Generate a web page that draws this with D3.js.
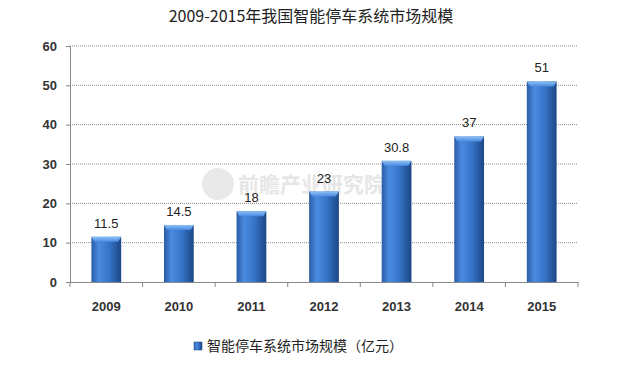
<!DOCTYPE html>
<html>
<head>
<meta charset="utf-8">
<script src="https://cdn.jsdelivr.net/npm/d3@7"></script>
<style>
  body { margin: 0; background: #fff; }
  svg { display: block; }
</style>
</head>
<body>
<svg id="chart" width="622" height="368"></svg>
<script>
const years = ['2009', '2010', '2011', '2012', '2013', '2014', '2015'];
const marketSize = [11.5, 14.5, 18, 23, 30.8, 37, 51];
const valueLabels = ['11.5', '14.5', '18', '23', '30.8', '37', '51'];
const yTicks = [0, 10, 20, 30, 40, 50, 60];
const chartTitle = '2009-2015年我国智能停车系统市场规模';
const seriesName = '智能停车系统市场规模（亿元）';
const watermark = '前瞻产业研究院';

const svg = d3.select('#chart');
const margin = { top: 46, right: 44, bottom: 86, left: 70 };
const width = 622 - margin.left - margin.right;
const height = 368 - margin.top - margin.bottom;
const cjk = '"Noto Sans CJK SC", "Noto Sans", sans-serif';
const latin = '"Liberation Sans", Arial, sans-serif';

const defs = svg.append('defs');
const grad = defs.append('linearGradient').attr('id', 'barGrad')
    .attr('x1', '0%').attr('x2', '100%').attr('y1', '0%').attr('y2', '0%');
grad.append('stop').attr('offset', '0%').attr('stop-color', '#2a5ca4');
grad.append('stop').attr('offset', '25%').attr('stop-color', '#4a8ae0');
grad.append('stop').attr('offset', '60%').attr('stop-color', '#3574c8');
grad.append('stop').attr('offset', '100%').attr('stop-color', '#1d4784');

const topGrad = defs.append('linearGradient').attr('id', 'topGrad')
    .attr('x1', '0%').attr('x2', '0%').attr('y1', '0%').attr('y2', '100%');
topGrad.append('stop').attr('offset', '0%').attr('stop-color', '#8cc0f5');
topGrad.append('stop').attr('offset', '100%').attr('stop-color', '#4a8ae0');

// Title
svg.append('text')
    .attr('x', 311).attr('y', 22)
    .attr('text-anchor', 'middle')
    .attr('font-family', cjk)
    .attr('font-size', 16)
    .attr('fill', '#222')
    .text(chartTitle);

const g = svg.append('g').attr('transform', `translate(${margin.left},${margin.top})`);

const x = d3.scaleBand().domain(years).range([0, width]).paddingInner(0.59).paddingOuter(0.295);
const y = d3.scaleLinear().domain([0, 60]).range([height, 0]);

// Watermark (faint, behind the bars)
const wm = g.append('g').attr('opacity', 0.6);
wm.append('circle').attr('cx', 148).attr('cy', 138).attr('r', 16).attr('fill', '#dcdcdc');
wm.append('text').attr('x', 168).attr('y', 146)
    .attr('font-family', cjk).attr('font-size', 21).attr('font-weight', 'bold')
    .attr('fill', '#d6d6d6').text(watermark);

// Grid lines
g.append('g')
    .selectAll('line')
    .data(yTicks.filter(d => d > 0))
    .join('line')
    .attr('x1', 0).attr('x2', width)
    .attr('y1', d => y(d)).attr('y2', d => y(d))
    .attr('stroke', '#8a8a8a')
    .attr('stroke-width', 1)
    .attr('stroke-dasharray', '1,1');

// Y axis
const yAxis = g.append('g')
    .call(d3.axisLeft(y).tickValues(yTicks).tickSize(4).tickPadding(9));
yAxis.select('.domain').attr('stroke', '#888');
yAxis.selectAll('.tick line').attr('stroke', '#888');
yAxis.selectAll('text')
    .attr('font-family', latin)
    .attr('font-size', 13).attr('font-weight', 'bold').attr('fill', '#333');

// X axis
const xAxis = g.append('g')
    .attr('transform', `translate(0,${height})`)
    .call(d3.axisBottom(x).tickSize(0).tickPadding(20));
xAxis.select('.domain').attr('stroke', '#888');
xAxis.selectAll('text')
    .attr('font-family', latin)
    .attr('font-size', 13).attr('font-weight', 'bold').attr('fill', '#333');
g.append('g')
    .selectAll('line')
    .data(d3.range(years.length + 1))
    .join('line')
    .attr('x1', i => i * x.step()).attr('x2', i => i * x.step())
    .attr('y1', height).attr('y2', height + 5)
    .attr('stroke', '#888');

// Bars
const bars = g.append('g').selectAll('g')
    .data(years.map((yr, i) => ({ yr, v: marketSize[i], label: valueLabels[i] })))
    .join('g');

bars.append('rect')
    .attr('x', d => x(d.yr))
    .attr('y', d => y(d.v))
    .attr('width', x.bandwidth())
    .attr('height', d => height - y(d.v))
    .attr('fill', 'url(#barGrad)');

bars.append('path')
    .attr('d', d => {
        const x0 = x(d.yr), x1 = x0 + x.bandwidth(), y0 = y(d.v);
        return `M${x0},${y0}L${x1},${y0}L${x1 - 3},${y0 + 5}L${x0 + 3},${y0 + 5}Z`;
    })
    .attr('fill', 'url(#topGrad)');

bars.append('text')
    .attr('x', d => x(d.yr) + x.bandwidth() / 2)
    .attr('y', d => y(d.v) - 9)
    .attr('text-anchor', 'middle')
    .attr('font-family', latin)
    .attr('font-size', 13)
    .attr('fill', '#222')
    .text(d => d.label);

// Legend
const legend = svg.append('g').attr('transform', 'translate(194,342)');
legend.append('rect').attr('x', 0).attr('y', 0).attr('width', 8).attr('height', 8)
    .attr('fill', 'url(#barGrad)').attr('stroke', '#1d4784').attr('stroke-width', 0.5);
legend.append('text')
    .attr('x', 13).attr('y', 9)
    .attr('font-family', cjk)
    .attr('font-size', 14)
    .attr('fill', '#222')
    .text(seriesName);
</script>
</body>
</html>
